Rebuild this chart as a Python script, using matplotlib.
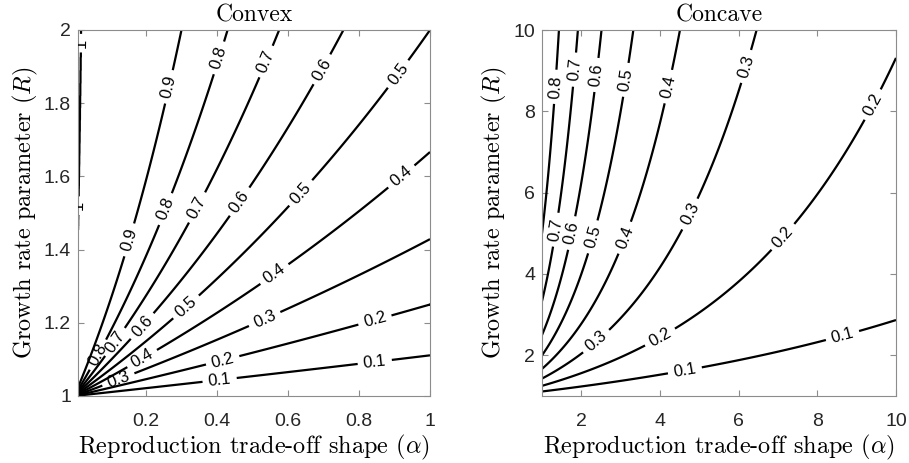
import numpy as np
import matplotlib
matplotlib.use('Agg')
import matplotlib.pyplot as plt

# contour levels of the fraction, and axis ranges
levels = [0.1, 0.2, 0.3, 0.4, 0.5, 0.6, 0.7, 0.8, 0.9]
convex_alpha = (0.01, 1.0)
convex_R = (1.0, 2.0)
concave_alpha = (1.0, 10.0)
concave_R = (1.0, 10.0)

convex_xticks = [0.2, 0.4, 0.6, 0.8, 1.0]
convex_xticklabels = ['0.2', '0.4', '0.6', '0.8', '1']
convex_yticks = [1.0, 1.2, 1.4, 1.6, 1.8, 2.0]
convex_yticklabels = ['1', '1.2', '1.4', '1.6', '1.8', '2']
concave_xticks = [2, 4, 6, 8, 10]
concave_yticks = [2, 4, 6, 8, 10]

# where the inline labels sit (alpha, R)
convex_label_pos = [
    (0.016, 1.964), (0.016, 1.52),
    (0.269, 1.844), (0.409, 1.923), (0.541, 1.913), (0.699, 1.891), (0.921, 1.872),
    (0.156, 1.426), (0.263, 1.508), (0.347, 1.514), (0.466, 1.530), (0.634, 1.557),
    (0.921, 1.598),
    (0.066, 1.113), (0.118, 1.145), (0.193, 1.189), (0.317, 1.240), (0.564, 1.331),
    (0.536, 1.208), (0.845, 1.208), (0.845, 1.090),
    (0.193, 1.098), (0.122, 1.049), (0.418, 1.093), (0.409, 1.038),
]
concave_label_pos = [
    (1.38, 8.60), (1.89, 9.02), (2.42, 8.89), (3.16, 8.77), (4.25, 8.60),
    (6.24, 9.09), (9.42, 8.16),
    (1.41, 5.08), (1.79, 5.00), (2.30, 4.91), (3.11, 4.89), (4.81, 5.45),
    (2.42, 2.30), (4.00, 2.45), (8.65, 2.45), (4.64, 1.59), (7.13, 4.91),
]


def fraction(a, r):
    # share of the growth rate given up: 1 - R^(-1/alpha)
    return 1.0 - r ** (-1.0 / a)


plt.rcParams['mathtext.fontset'] = 'cm'
plt.rcParams['axes.unicode_minus'] = False

SANS = 'Liberation Sans'
SERIF = 'cmr10'
GREY = '0.55'


def style_axes(ax, xlim, ylim, xticks, xticklabels, yticks, yticklabels, title):
    ax.set_xlim(*xlim)
    ax.set_ylim(*ylim)
    ax.set_xticks(xticks)
    ax.set_xticklabels(xticklabels, fontfamily=SANS, fontsize=14, color='0.15')
    ax.set_yticks(yticks)
    ax.set_yticklabels(yticklabels, fontfamily=SANS, fontsize=14, color='0.15')
    ax.tick_params(direction='in', length=4, width=0.8, color=GREY,
                   top=True, right=True)
    ax.tick_params(axis='x', pad=12)
    ax.tick_params(axis='y', pad=5)
    for s in ax.spines.values():
        s.set_color(GREY)
        s.set_linewidth(0.8)
    ax.set_title(title, fontfamily=SERIF, fontsize=17, pad=6)
    ax.set_xlabel(r'Reproduction trade-off shape ($\alpha$)', fontfamily=SERIF,
                  fontsize=17.5, labelpad=2)
    ax.set_ylabel(r'Growth rate parameter ($R$)', fontfamily=SERIF,
                  fontsize=17.5, labelpad=3)


def fmt(v):
    return '%g' % round(v, 6)


fig = plt.figure(figsize=(9.09, 4.63), dpi=100)
W, H = 909, 463
ax1 = fig.add_axes([78 / W, 1 - 396 / H, (430 - 78) / W, 366 / H])
ax2 = fig.add_axes([542 / W, 1 - 396 / H, (896 - 542) / W, 366 / H])

# convex panel
a1 = np.linspace(convex_alpha[0], convex_alpha[1], 1981)
r1 = np.linspace(convex_R[0], convex_R[1], 801)
A1, R1 = np.meshgrid(a1, r1)
Z1 = fraction(A1, R1)
lv1 = levels + [np.nextafter(1.0, 0.0)]
cs1 = ax1.contour(A1, R1, Z1, levels=lv1, colors='k', linewidths=1.6)
ax1.clabel(cs1, manual=convex_label_pos, fmt=fmt, fontsize=12, inline=True,
           inline_spacing=4)
style_axes(ax1, convex_alpha, convex_R, convex_xticks, convex_xticklabels,
           convex_yticks, convex_yticklabels, 'Convex')

# concave panel
a2 = np.linspace(concave_alpha[0], concave_alpha[1], 901)
r2 = np.linspace(concave_R[0], concave_R[1], 901)
A2, R2 = np.meshgrid(a2, r2)
Z2 = fraction(A2, R2)
cs2 = ax2.contour(A2, R2, Z2, levels=levels, colors='k', linewidths=1.6)
ax2.clabel(cs2, manual=concave_label_pos, fmt=fmt, fontsize=12, inline=True,
           inline_spacing=4)
style_axes(ax2, concave_alpha, concave_R, concave_xticks,
           [str(t) for t in concave_xticks], concave_yticks,
           [str(t) for t in concave_yticks], 'Concave')

for t in cs1.labelTexts + cs2.labelTexts:
    t.set_fontfamily(SANS)

fig.savefig('out.png', dpi=100)
